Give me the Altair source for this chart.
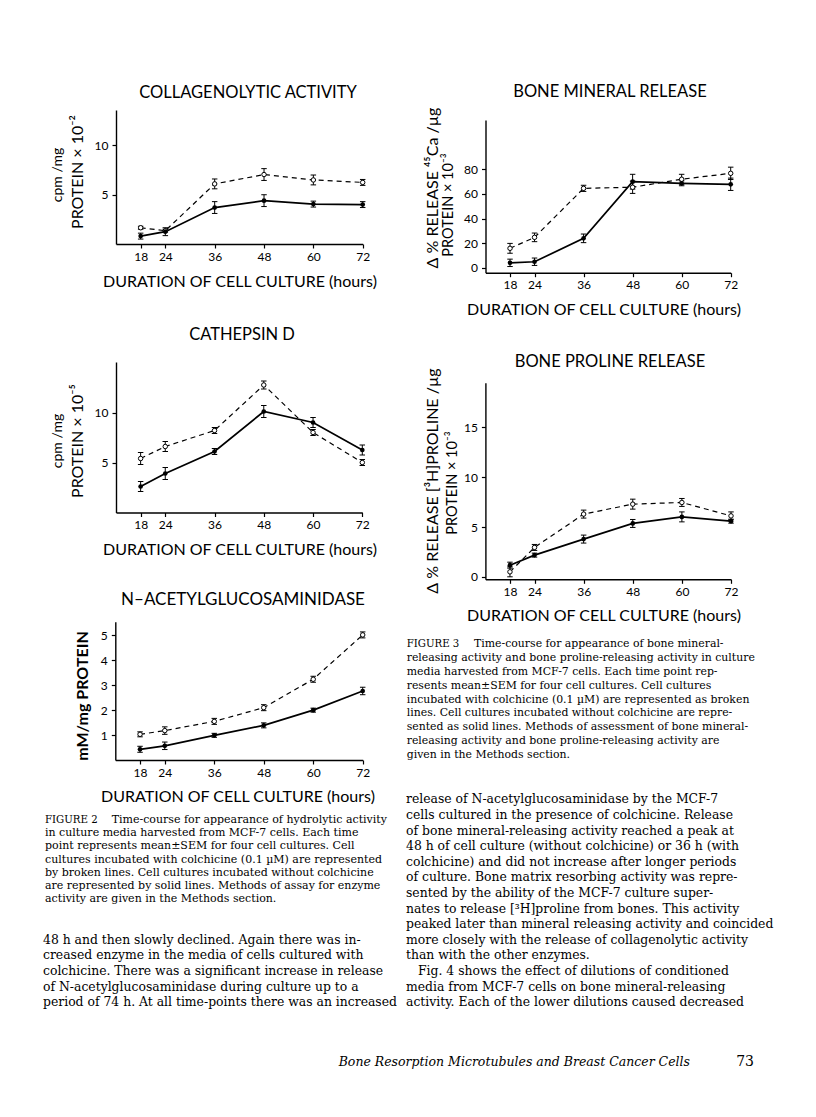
import altair as alt
import pandas as pd

# ---------------- data ----------------
HOURS = [18, 24, 36, 48, 60, 72]

COLL_COLCH = [1.65, 1.35, 6.1, 7.05, 6.5, 6.25]
COLL_COLCH_ERR = [0.15, 0.15, 0.5, 0.6, 0.5, 0.3]
COLL_CTRL = [0.8, 1.25, 3.7, 4.4, 4.05, 4.0]
COLL_CTRL_ERR = [0.3, 0.4, 0.6, 0.6, 0.3, 0.3]

CATH_COLCH = [5.4, 6.6, 8.2, 12.75, 8.0, 5.0]
CATH_COLCH_ERR = [0.6, 0.5, 0.3, 0.4, 0.3, 0.3]
CATH_CTRL = [2.6, 3.9, 6.1, 10.1, 9.0, 6.25]
CATH_CTRL_ERR = [0.5, 0.6, 0.3, 0.6, 0.5, 0.5]

NAG_COLCH = [1.03, 1.18, 1.55, 2.1, 3.24, 5.02]
NAG_COLCH_ERR = [0.1, 0.15, 0.12, 0.12, 0.12, 0.12]
NAG_CTRL = [0.43, 0.57, 0.99, 1.39, 2.0, 2.77]
NAG_CTRL_ERR = [0.12, 0.15, 0.08, 0.1, 0.08, 0.15]

MIN_COLCH = [15.8, 24.7, 64.5, 65.4, 71.9, 76.7]
MIN_COLCH_ERR = [4, 3.5, 2.5, 5, 4, 5]
MIN_CTRL = [4.0, 4.9, 23.9, 69.9, 68.6, 67.8]
MIN_CTRL_ERR = [3, 3, 3.5, 6, 2, 5]

PRO_COLCH = [0.5, 2.95, 6.3, 7.3, 7.47, 6.12]
PRO_COLCH_ERR = [0.5, 0.3, 0.4, 0.5, 0.4, 0.4]
PRO_CTRL = [1.17, 2.18, 3.79, 5.36, 6.02, 5.59]
PRO_CTRL_ERR = [0.3, 0.2, 0.4, 0.4, 0.5, 0.2]

# ---------------- page text ----------------
FIG2_HEAD = "FIGURE 2"
FIG2_LINES = [
    "Time-course for appearance of hydrolytic activity",
    "in culture media harvested from MCF-7 cells. Each time",
    "point represents mean±SEM for four cell cultures. Cell",
    "cultures incubated with colchicine (0.1 µM) are represented",
    "by broken lines. Cell cultures incubated without colchicine",
    "are represented by solid lines. Methods of assay for enzyme",
    "activity are given in the Methods section.",
]
FIG3_HEAD = "FIGURE 3"
FIG3_LINES = [
    "Time-course for appearance of bone mineral-",
    "releasing activity and bone proline-releasing activity in culture",
    "media harvested from MCF-7 cells. Each time point rep-",
    "resents mean±SEM for four cell cultures. Cell cultures",
    "incubated with colchicine (0.1 µM) are represented as broken",
    "lines. Cell cultures incubated without colchicine are repre-",
    "sented as solid lines. Methods of assessment of bone mineral-",
    "releasing activity and bone proline-releasing activity are",
    "given in the Methods section.",
]
LEFT_BODY = [
    "48 h and then slowly declined. Again there was in-",
    "creased enzyme in the media of cells cultured with",
    "colchicine. There was a significant increase in release",
    "of N-acetylglucosaminidase during culture up to a",
    "period of 74 h. At all time-points there was an increased",
]
RIGHT_BODY_A = [
    "release of N-acetylglucosaminidase by the MCF-7",
    "cells cultured in the presence of colchicine. Release",
    "of bone mineral-releasing activity reached a peak at",
    "48 h of cell culture (without colchicine) or 36 h (with",
    "colchicine) and did not increase after longer periods",
    "of culture. Bone matrix resorbing activity was repre-",
    "sented by the ability of the MCF-7 culture super-",
    "nates to release [³H]proline from bones. This activity",
    "peaked later than mineral releasing activity and coincided",
    "more closely with the release of collagenolytic activity",
    "than with the other enzymes.",
]
RIGHT_BODY_INDENT = "Fig. 4 shows the effect of dilutions of conditioned"
RIGHT_BODY_B = [
    "media from MCF-7 cells on bone mineral-releasing",
    "activity. Each of the lower dilutions caused decreased",
]
FOOTER = "Bone Resorption Microtubules and Breast Cancer Cells"
PAGE_NO = "73"

W, H, M = 800, 1101, 8  # chart size, page margin
SANS = "Lato"
SERIF = "DejaVu Serif"


def panel(colch, colch_err, ctrl, ctrl_err, xr, ydom, yr, yticks):
    df = pd.DataFrame({
        "hours": HOURS * 2,
        "value": colch + ctrl,
        "err": colch_err + ctrl_err,
        "series": ["colchicine"] * len(HOURS) + ["control"] * len(HOURS),
    })
    xs = alt.Scale(domain=[12, 72], range=[xr[0] - M, xr[1] - M], nice=False, zero=False)
    ys = alt.Scale(domain=ydom, range=[yr[0] - M, yr[1] - M], nice=False, zero=False)
    common = dict(grid=False, title=None, domainColor="black", domainWidth=1.4,
                  tickColor="black", tickWidth=1.2, tickSize=4, labelFont=SANS,
                  labelFontSize=12, labelColor="black")
    xaxis = alt.Axis(values=HOURS, orient="bottom", offset=(yr[0] - M) - H,
                     labelPadding=3, labelFlush=False, **common)
    yaxis = alt.Axis(values=yticks, orient="left", offset=-(xr[0] - M),
                     labelPadding=4, **common)

    def X(f):
        return alt.X(f"{f}:Q", scale=xs, axis=xaxis)

    def Y(f):
        return alt.Y(f"{f}:Q", scale=ys, axis=yaxis)

    base = alt.Chart(df).transform_calculate(
        lo="datum.value - datum.err", hi="datum.value + datum.err")
    bars = base.mark_rule(color="black", strokeWidth=1).encode(
        x=X("hours"), y=Y("lo"), y2="hi:Q")
    caps = base.transform_fold(["lo", "hi"], as_=["k", "cap"]).mark_point(
        shape="M-1,0H1", size=30, filled=False, color="black", strokeWidth=1,
        opacity=1).encode(x=X("hours"), y=Y("cap"))
    dash = base.transform_filter("datum.series == 'colchicine'").mark_line(
        color="black", strokeWidth=1.2, strokeDash=[5, 4]).encode(
        x=X("hours"), y=Y("value"))
    solid = base.transform_filter("datum.series == 'control'").mark_line(
        color="black", strokeWidth=1.7).encode(x=X("hours"), y=Y("value"))
    open_pts = base.transform_filter("datum.series == 'colchicine'").mark_point(
        shape="circle", size=20, filled=True, fill="white", stroke="black",
        strokeWidth=1, opacity=1).encode(x=X("hours"), y=Y("value"))
    full_pts = base.transform_filter("datum.series == 'control'").mark_point(
        shape="circle", size=22, filled=True, color="black", opacity=1).encode(
        x=X("hours"), y=Y("value"))
    return alt.layer(bars, caps, dash, solid, open_pts, full_pts)


def txt(s, x, y, size, font=SANS, angle=0, align="center", baseline="middle",
        style="normal", weight="normal", lh=None):
    mk = dict(font=font, fontSize=size, align=align, baseline=baseline,
              color="black", fontStyle=style, fontWeight=weight)
    if angle:
        mk["angle"] = angle
    if lh:
        mk["lineBreak"] = "\n"
        mk["lineHeight"] = lh
    return alt.Chart(pd.DataFrame({"t": [s]})).mark_text(**mk).encode(
        x=alt.value(x - M), y=alt.value(y - M), text="t:N")


panels = [
    panel(COLL_COLCH, COLL_COLCH_ERR, COLL_CTRL, COLL_CTRL_ERR,
          [116, 362.7], [0, 13.6], [244, 110], [5, 10]),
    panel(CATH_COLCH, CATH_COLCH_ERR, CATH_CTRL, CATH_CTRL_ERR,
          [116, 362.3], [0, 15.05], [512.5, 362], [5, 10]),
    panel(NAG_COLCH, NAG_COLCH_ERR, NAG_CTRL, NAG_CTRL_ERR,
          [115.3, 362.7], [0, 5.55], [760, 621.7], [1, 2, 3, 4, 5]),
    panel(MIN_COLCH, MIN_COLCH_ERR, MIN_CTRL, MIN_CTRL_ERR,
          [485.5, 730.7], [-4, 120], [272.7, 120], [0, 20, 40, 60, 80]),
    panel(PRO_COLCH, PRO_COLCH_ERR, PRO_CTRL, PRO_CTRL_ERR,
          [485.4, 731], [-0.25, 19.5], [579.3, 382.7], [0, 5, 10, 15]),
]

BODY_LH = 15.6
BODY_FS = 12.4
R0 = 803.4  # baseline of first right-column line

XT = "DURATION OF CELL CULTURE (hours)"
texts = [
    # panel titles
    txt("COLLAGENOLYTIC  ACTIVITY", 248, 93, 16.5),
    txt("CATHEPSIN  D", 242, 335, 16.5),
    txt("N–ACETYLGLUCOSAMINIDASE", 243, 600, 17),
    txt("BONE  MINERAL  RELEASE", 610, 92, 16.5),
    txt("BONE  PROLINE  RELEASE", 610, 362, 16.5),
    # x titles
    txt(XT, 240, 282, 16), txt(XT, 240, 550, 16), txt(XT, 238, 797, 16),
    txt(XT, 604, 310, 16), txt(XT, 604, 616, 16),
    # y titles
    txt("cpm /mg", 58, 175, 14, angle=270),
    txt("PROTEIN × 10⁻²", 78, 172, 16, angle=270),
    txt("cpm /mg", 58, 441, 14, angle=270),
    txt("PROTEIN × 10⁻⁵", 78, 441, 16, angle=270),
    txt("mM/mg PROTEIN", 83, 696, 16, angle=270, weight="bold"),
    txt("Δ % RELEASE ⁴⁵Ca /µg", 433, 188, 16, angle=270),
    txt("PROTEIN × 10⁻³", 449, 205, 14.5, angle=270),
    txt("Δ % RELEASE [³H]PROLINE /µg", 433, 481, 16, angle=270),
    txt("PROTEIN × 10⁻³", 453, 483, 14.5, angle=270),
    # captions
    txt(FIG2_HEAD, 45, 823, 10.2, font=SERIF, align="left", baseline="alphabetic"),
    txt(FIG2_LINES[0], 111.7, 823, 11, font=SERIF, align="left", baseline="alphabetic"),
    txt("\n".join(FIG2_LINES[1:]), 45, 836.2, 11, font=SERIF, align="left",
        baseline="alphabetic", lh=13.2),
    txt(FIG3_HEAD, 406.7, 647, 10.2, font=SERIF, align="left", baseline="alphabetic"),
    txt(FIG3_LINES[0], 474, 647, 10.9, font=SERIF, align="left", baseline="alphabetic"),
    txt("\n".join(FIG3_LINES[1:]), 406.7, 660.9, 10.9, font=SERIF, align="left",
        baseline="alphabetic", lh=13.9),
    # body text
    txt("\n".join(LEFT_BODY), 43, R0 + 9 * BODY_LH, BODY_FS, font=SERIF, align="left",
        baseline="alphabetic", lh=BODY_LH),
    txt("\n".join(RIGHT_BODY_A), 406, R0, BODY_FS, font=SERIF, align="left",
        baseline="alphabetic", lh=BODY_LH),
    txt(RIGHT_BODY_INDENT, 418, R0 + 11 * BODY_LH, BODY_FS, font=SERIF, align="left",
        baseline="alphabetic"),
    txt("\n".join(RIGHT_BODY_B), 406, R0 + 12 * BODY_LH, BODY_FS, font=SERIF,
        align="left", baseline="alphabetic", lh=BODY_LH),
    # footer
    txt(FOOTER, 690, 1065.5, 12.5, font=SERIF, align="right", baseline="alphabetic",
        style="italic"),
    txt(PAGE_NO, 754, 1065.5, 14, font=SERIF, align="right", baseline="alphabetic"),
]

chart = alt.layer(*panels, *texts).resolve_scale(
    x="independent", y="independent"
).resolve_axis(
    x="independent", y="independent"
).properties(
    width=W, height=H, padding=0, autosize=alt.AutoSizeParams(type="none"),
    background="white",
).configure_view(stroke=None)

chart.save("out.html", embed_options={"renderer": "svg", "actions": False})
